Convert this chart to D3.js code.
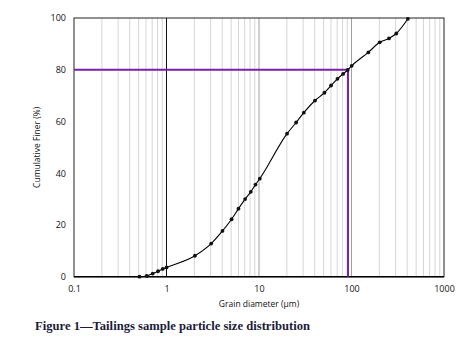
<html>
<head>
<script src="https://d3js.org/d3.v7.min.js"></script>
<style>
  body { margin: 0; background: #fff; }
</style>
</head>
<body>
<script>
// grain size (um) and cumulative % finer
const diameters = [0.51, 0.61, 0.71, 0.81, 0.91, 1.0, 2.03, 3.04, 4.03, 5.05, 6.0, 7.08, 8.15, 9.16, 10.2,
  20.1, 25.2, 30.5, 40.3, 51, 60.1, 70.5, 81.1, 91, 100.5, 152, 202, 254, 305, 407]
const finer = [0, 0.3, 1.2, 2.1, 3.0, 3.6, 8.1, 12.8, 17.7, 22.2, 26.3, 30.0, 32.8, 35.6, 37.9,
  55.3, 59.6, 63.4, 68.1, 71.1, 73.9, 76.5, 78.4, 79.9, 81.5, 86.7, 90.6, 92.1, 94.0, 99.7]
const xTicks = [0.1, 1, 10, 100, 1000]
const yTicks = [0, 20, 40, 60, 80, 100]
const d80 = 91.6
const p80 = 80

const width = 470, height = 345
const margin = { left: 74, right: 26, top: 18, bottom: 68 }
const sans = '"Open Sans", "DejaVu Sans", sans-serif'

const svg = d3.select('body').append('svg')
    .attr('width', width)
    .attr('height', height)

const x = d3.scaleLog().domain([0.1, 1000]).range([margin.left, width - margin.right])
const y = d3.scaleLinear().domain([0, 100]).range([height - margin.bottom - 0.3, margin.top])

// vertical grid lines, 2..9 per decade
const minor = []
for (let dec = 0.1; dec < 1000; dec *= 10) {
    for (let k = 2; k <= 9; k++) minor.push(dec * k)
}
svg.append('g').selectAll('line')
    .data(minor)
    .enter()
    .append('line')
    .attr('x1', d => x(d)).attr('x2', d => x(d))
    .attr('y1', y(100)).attr('y2', y(0))
    .attr('stroke', '#d6d6d6')
    .attr('stroke-width', 1)

svg.append('g').selectAll('line')
    .data([10, 100])
    .enter()
    .append('line')
    .attr('x1', d => x(d)).attr('x2', d => x(d))
    .attr('y1', y(100)).attr('y2', y(0))
    .attr('stroke', '#a0a0a0')
    .attr('stroke-width', 1)

svg.append('line')
    .attr('x1', x(1)).attr('x2', x(1))
    .attr('y1', y(100)).attr('y2', y(0))
    .attr('stroke', '#111')
    .attr('stroke-width', 1)

// frame
svg.append('rect')
    .attr('x', x(0.1)).attr('y', y(100))
    .attr('width', x(1000) - x(0.1))
    .attr('height', y(0) - y(100))
    .attr('fill', 'none')
    .attr('stroke', '#222')
    .attr('stroke-width', 1)
svg.append('line')
    .attr('x1', x(0.1)).attr('x2', x(1000))
    .attr('y1', y(0)).attr('y2', y(0))
    .attr('stroke', '#000')
    .attr('stroke-width', 1.6)

// d80 marker lines
svg.append('path')
    .attr('d', `M${x(0.1)},${y(p80)}H${x(d80)}V${y(0)}`)
    .attr('fill', 'none')
    .attr('stroke', '#7a1fa8')
    .attr('stroke-width', 2)

// axes (labels only)
const xAxis = d3.axisBottom(x).tickValues(xTicks).tickFormat(d => String(d)).tickSize(0).tickPadding(9)
const gx = svg.append('g').attr('transform', `translate(0,${y(0)})`).call(xAxis)
gx.select('.domain').remove()
gx.selectAll('text').attr('font-size', 9).attr('fill', '#111').attr('font-family', sans)

const yAxis = d3.axisLeft(y).tickValues(yTicks).tickSize(0).tickPadding(8)
const gy = svg.append('g').attr('transform', `translate(${x(0.1)},0)`).call(yAxis)
gy.select('.domain').remove()
gy.selectAll('text').attr('font-size', 9).attr('fill', '#111').attr('font-family', sans)

// curve
const pts = diameters.map((d, i) => [d, finer[i]])
const line = d3.line()
    .x(d => x(d[0]))
    .y(d => y(d[1]))
    .curve(d3.curveMonotoneX)
svg.append('path')
    .datum(pts)
    .attr('d', line)
    .attr('fill', 'none')
    .attr('stroke', '#000')
    .attr('stroke-width', 1.1)

svg.append('g').selectAll('circle')
    .data(pts)
    .enter()
    .append('circle')
    .attr('cx', d => x(d[0]))
    .attr('cy', d => y(d[1]))
    .attr('r', 1.9)
    .attr('fill', '#111')

// axis titles
svg.append('text')
    .attr('x', 259).attr('y', 307)
    .attr('text-anchor', 'middle')
    .attr('font-family', sans)
    .attr('font-size', 8.5)
    .attr('fill', '#111')
    .text('Grain  diameter (µm)')

svg.append('text')
    .attr('transform', `translate(40,${(y(0) + y(100)) / 2}) rotate(-90)`)
    .attr('text-anchor', 'middle')
    .attr('font-family', sans)
    .attr('font-size', 8.5)
    .attr('fill', '#111')
    .text('Cumulative  Finer (%)')

svg.append('text')
    .attr('x', 35).attr('y', 330)
    .attr('font-family', '"Liberation Serif", "DejaVu Serif", serif')
    .attr('font-weight', 'bold')
    .attr('font-size', 12)
    .attr('textLength', 275)
    .attr('lengthAdjust', 'spacingAndGlyphs')
    .attr('fill', '#1c1c3a')
    .text('Figure 1—Tailings sample particle size distribution')
</script>
</body>
</html>
